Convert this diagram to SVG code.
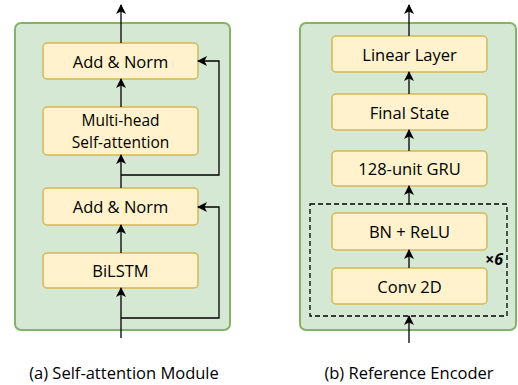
<svg xmlns="http://www.w3.org/2000/svg" width="518" height="385" viewBox="0 0 518 385">
<defs>
<marker id="ah" viewBox="0 0 10 10" refX="9" refY="5" markerWidth="10" markerHeight="10" markerUnits="userSpaceOnUse" orient="auto">
<path d="M0,0 L10,5 L0,10 L2.5,5 Z" fill="#000"/>
</marker>
</defs>
<style>
.panel{fill:#d5e8d4;stroke:#82b366;stroke-width:2}
.box{fill:#fff2cc;stroke:#d6b656;stroke-width:1.5}
.lbl{font-family:"Open Sans","Noto Sans",sans-serif;font-size:16.5px;fill:#000;text-anchor:middle;dominant-baseline:central}
.cap{font-family:"Open Sans","Noto Sans",sans-serif;font-size:16.5px;fill:#000;text-anchor:middle;dominant-baseline:central}
.ln{fill:none;stroke:#000;stroke-width:1.3}
</style>
<g id="panel-a"><rect class="panel" x="15" y="23" width="215" height="307" rx="6"/></g>
<g id="panel-b"><rect class="panel" x="300" y="23" width="216" height="307" rx="6"/></g>
<g id="repeat-block"><rect x="310" y="204" width="197" height="112" fill="none" stroke="#000" stroke-width="1.3" stroke-dasharray="5,3"/>
<text x="494" y="259" font-family="'Open Sans','Noto Sans',sans-serif" font-size="16" font-weight="bold" font-style="italic" text-anchor="middle" dominant-baseline="central">×6</text></g>
<g id="add-norm-top"><rect class="box" x="43" y="43" width="155" height="36" rx="4"/><text class="lbl" x="120.5" y="61">Add &amp; Norm</text></g>
<g id="mhsa"><rect class="box" x="43" y="107" width="155" height="48" rx="4"/><text class="lbl" x="120.5" y="120.4" style="font-size:15.5px">Multi-head</text><text class="lbl" x="120.5" y="141.6" style="font-size:15.5px">Self-attention</text></g>
<g id="add-norm-bottom"><rect class="box" x="43" y="188" width="155" height="37" rx="4"/><text class="lbl" x="120.5" y="206.5">Add &amp; Norm</text></g>
<g id="bilstm"><rect class="box" x="43" y="253" width="155" height="35" rx="4"/><text class="lbl" x="120.5" y="270.5">BiLSTM</text></g>
<g id="linear"><rect class="box" x="332" y="36" width="155" height="36" rx="4"/><text class="lbl" x="409.5" y="54">Linear Layer</text></g>
<g id="final-state"><rect class="box" x="332" y="94" width="155" height="36" rx="4"/><text class="lbl" x="409.5" y="112">Final State</text></g>
<g id="gru"><rect class="box" x="332" y="151" width="155" height="35" rx="4"/><text class="lbl" x="409.5" y="168.5">128-unit GRU</text></g>
<g id="bn-relu"><rect class="box" x="332" y="213" width="155" height="37" rx="4"/><text class="lbl" x="409.5" y="231.5">BN + ReLU</text></g>
<g id="conv2d"><rect class="box" x="332" y="268" width="155" height="36" rx="4"/><text class="lbl" x="409.5" y="286">Conv 2D</text></g>
<g id="connectors">
<line class="ln" x1="121" y1="43" x2="121" y2="5" marker-end="url(#ah)"/>
<line class="ln" x1="121" y1="107" x2="121" y2="79" marker-end="url(#ah)"/>
<line class="ln" x1="121" y1="188" x2="121" y2="155" marker-end="url(#ah)"/>
<polyline class="ln" points="121,175 219,175 219,61 198,61" marker-end="url(#ah)"/>
<line class="ln" x1="121" y1="253" x2="121" y2="225" marker-end="url(#ah)"/>
<line class="ln" x1="121" y1="338" x2="121" y2="288" marker-end="url(#ah)"/>
<polyline class="ln" points="121,318 219,318 219,207 198,207" marker-end="url(#ah)"/>
<line class="ln" x1="409" y1="36" x2="409" y2="5" marker-end="url(#ah)"/>
<line class="ln" x1="409" y1="94" x2="409" y2="72" marker-end="url(#ah)"/>
<line class="ln" x1="409" y1="151" x2="409" y2="130" marker-end="url(#ah)"/>
<line class="ln" x1="409" y1="204" x2="409" y2="186" marker-end="url(#ah)"/>
<line class="ln" x1="409" y1="268" x2="409" y2="250" marker-end="url(#ah)"/>
<line class="ln" x1="409" y1="343" x2="409" y2="316" marker-end="url(#ah)"/>
</g>
<g id="captions">
<text class="cap" x="124" y="372">(a) Self-attention Module</text>
<text class="cap" x="409" y="372">(b) Reference Encoder</text>
</g>
</svg>
